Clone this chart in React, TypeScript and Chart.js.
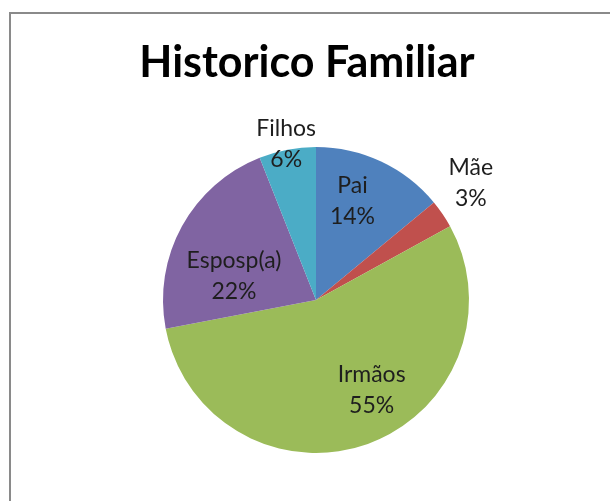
import React, { useEffect, useRef } from "react";
import { Chart, registerables } from "chart.js";

Chart.register(...registerables);

const chartTitle = "Historico Familiar";
const categories = ["Pai", "Mãe", "Irmãos", "Esposp(a)", "Filhos"];
const values = [14, 3, 55, 22, 6];
const sliceColors = ["#4F81BD", "#C0504D", "#9BBB59", "#8064A2", "#4BACC6"];

// label placement: radial factor (of outer radius) and angular shift (deg) from slice middle
const labelRadial = [0.69, 1.27, 0.69, 0.56, 1.04];
const labelShift = [-5, -3, -12, -12, 0];

const labelFont = '23px "Lato", "Liberation Sans", sans-serif';
const titleFont = 'bold 43px "Lato", "Liberation Sans", sans-serif';

const labelPlugin = {
  id: "pieLabels",
  afterDatasetsDraw(chart: any) {
    const ctx = chart.ctx;
    const meta = chart.getDatasetMeta(0);
    const total = values.reduce((a, b) => a + b, 0);
    ctx.save();
    ctx.font = labelFont;
    ctx.fillStyle = "#1e1e1e";
    ctx.textAlign = "center";
    ctx.textBaseline = "middle";
    meta.data.forEach((arc: any, i: number) => {
      const p = arc.getProps(["x", "y", "startAngle", "endAngle", "outerRadius"], true);
      const mid = (p.startAngle + p.endAngle) / 2 + (labelShift[i] * Math.PI) / 180;
      const r = p.outerRadius * labelRadial[i];
      const cx = p.x + Math.cos(mid) * r;
      const cy = p.y + Math.sin(mid) * r;
      const pct = Math.round((values[i] / total) * 100) + "%";
      ctx.fillText(categories[i], cx, cy - 15);
      ctx.fillText(pct, cx, cy + 16);
    });
    ctx.restore();
  },
  afterDraw(chart: any) {
    const ctx = chart.ctx;
    ctx.save();
    ctx.font = titleFont;
    ctx.fillStyle = "#000000";
    ctx.textAlign = "center";
    ctx.textBaseline = "alphabetic";
    ctx.fillText(chartTitle, 307, 77);
    ctx.restore();
  },
};

export default function App() {
  const ref = useRef<HTMLCanvasElement | null>(null);
  useEffect(() => {
    if (!ref.current) return;
    const chart = new Chart(ref.current, {
      type: "pie",
      data: {
        labels: categories,
        datasets: [
          {
            data: values,
            backgroundColor: sliceColors,
            borderWidth: 0,
          },
        ],
      },
      options: {
        animation: false,
        responsive: false,
        maintainAspectRatio: false,
        layout: { padding: { left: 163, right: 141, top: 147, bottom: 48 } },
        plugins: {
          legend: { display: false },
          title: { display: false },
          tooltip: { enabled: false },
        },
      },
      plugins: [labelPlugin],
    });
    return () => chart.destroy();
  }, []);
  return (
    <div
      style={{
        position: "fixed",
        left: 0,
        top: 0,
        width: 610,
        height: 501,
        background: "#ffffff",
        overflow: "hidden",
      }}
    >
      <div
        style={{
          position: "absolute",
          left: 9,
          top: 12,
          width: 1000,
          height: 1000,
          border: "2px solid #8a8a8a",
        }}
      />
      <canvas ref={ref} width={610} height={501} style={{ position: "absolute", left: 0, top: 0 }} />
    </div>
  );
}
